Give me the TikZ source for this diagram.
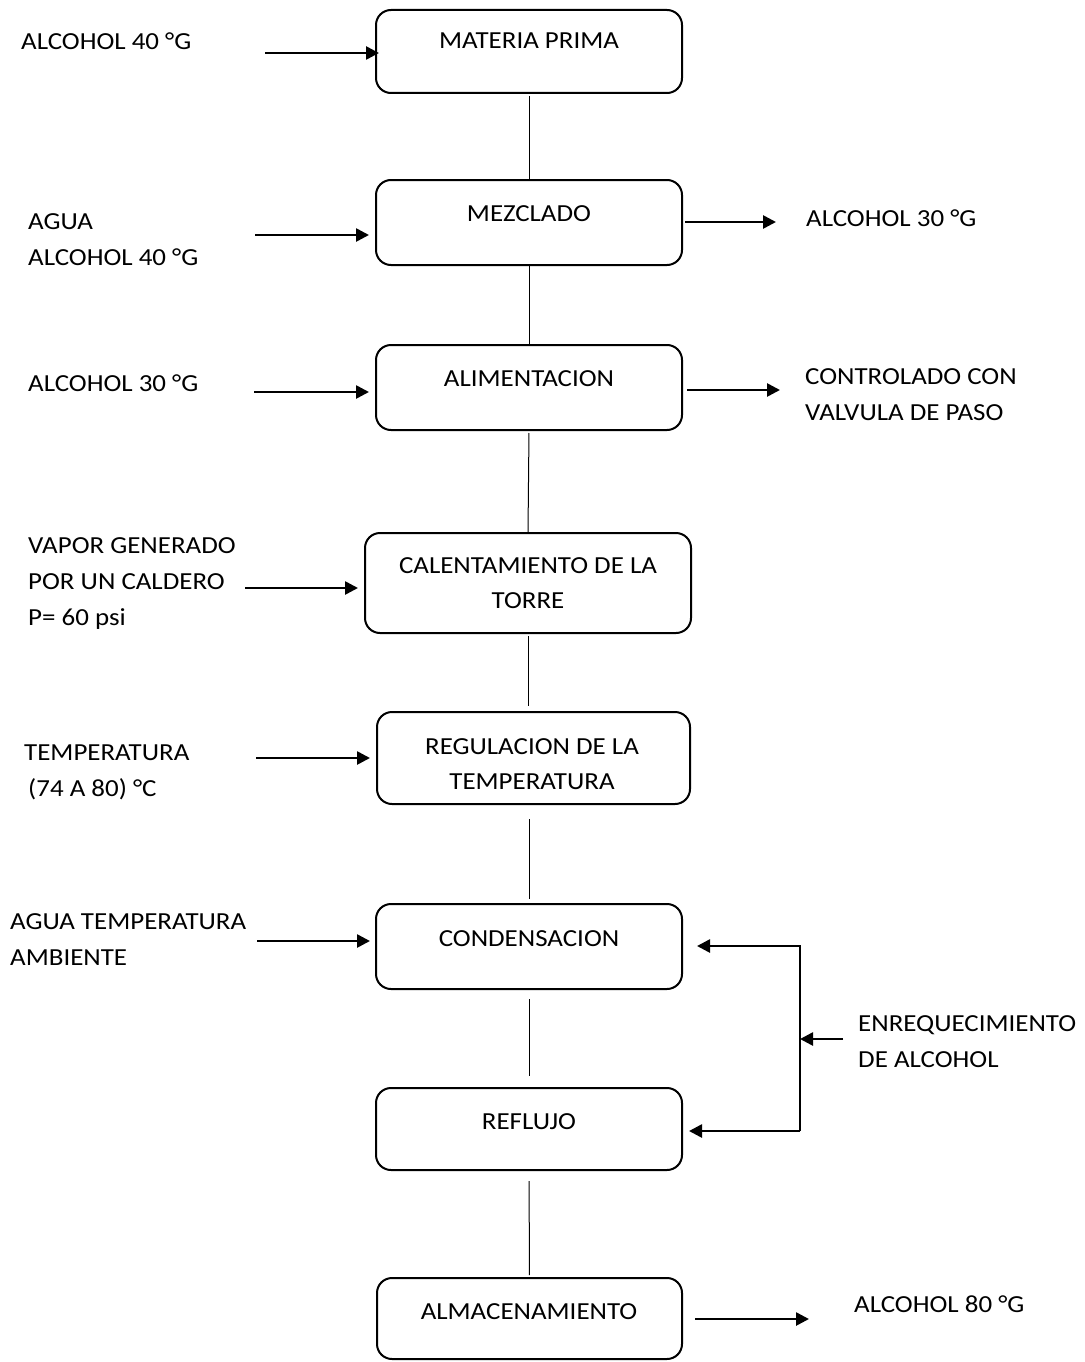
\documentclass[tikz,border=0pt]{standalone}
\usepackage{fontspec}
\setmainfont{Carlito}[FakeStretch=1.1]
\usetikzlibrary{arrows.meta}
\begin{document}
\begin{tikzpicture}[x=1pt,y=-1pt,
  box/.style={draw,line width=2pt,rounded corners=15pt,inner sep=0pt},
  lbl/.style={anchor=north west,inner sep=0pt,align=left,font=\fontsize{24.5}{36}\selectfont},
  btxt/.style={anchor=north,inner sep=0pt,align=center,font=\fontsize{24.5}{35}\selectfont},
  conn/.style={line width=1pt},
  arr/.style={line width=2.6pt,-{Triangle[length=13pt,width=13pt]}}]
\useasboundingbox (0,0) rectangle (1084,1362);
% boxes
\node[box,minimum width=306pt,minimum height=83pt] (b1) at (529,51.5) {};
\node[box,minimum width=306pt,minimum height=85pt] (b2) at (529,222.5) {};
\node[box,minimum width=306pt,minimum height=85pt] (b3) at (529,387.5) {};
\node[box,minimum width=326pt,minimum height=100pt] (b4) at (528,583) {};
\node[box,minimum width=313pt,minimum height=92pt] (b5) at (533.5,758) {};
\node[box,minimum width=306pt,minimum height=85pt] (b6) at (529,946.5) {};
\node[box,minimum width=306pt,minimum height=82pt] (b7) at (529,1129) {};
\node[box,minimum width=305pt,minimum height=81pt] (b8) at (529.5,1318.5) {};
% box texts
\node[btxt] (t1) at (529,33) {MATERIA PRIMA};
\node[btxt] (t2) at (529,205) {MEZCLADO};
\node[btxt] (t3) at (529,370) {ALIMENTACION};
\node[btxt] (t4) at (528,557) {CALENTAMIENTO DE LA\\TORRE};
\node[btxt] (t5) at (532,738) {REGULACION DE LA\\TEMPERATURA};
\node[btxt] (t6) at (529,930) {CONDENSACION};
\node[btxt] (t7) at (529,1113) {REFLUJO};
\node[btxt] (t8) at (529,1303) {ALMACENAMIENTO};
% vertical connectors
\draw[conn,shorten <=2pt] (b1.south) -- (b2.north);
\draw[conn] (b2.south) -- (b3.north);
\draw[conn,shorten <=2pt] (b3.south) -- (b4.north);
\draw[conn,shorten <=2pt,shorten >=5pt] (b4.south) -- (b4.south |- b5.north);
\draw[conn,shorten <=14pt,shorten >=4pt] (b5.south -| b6.north) -- (b6.north);
\draw[conn,shorten <=9pt,shorten >=11pt] (b6.south) -- (b7.north);
\draw[conn,shorten <=10pt,shorten >=2pt] (b7.south) -- (b8.north);
% left labels
\node[lbl] (l1) at (21,33) {ALCOHOL 40 °G};
\node[lbl] (l2) at (28,213) {AGUA\\ALCOHOL 40 °G};
\node[lbl] (l3) at (28,375) {ALCOHOL 30 °G};
\node[lbl] (l4) at (28,537) {VAPOR GENERADO\\POR UN CALDERO\\P= 60 psi};
\node[lbl] (l5) at (24,745) {TEMPERATURA\\\hspace*{4pt}(74 A 80) °C};
\node[lbl] (l6) at (10,913) {AGUA TEMPERATURA\\AMBIENTE};
% right labels
\node[lbl] (r2) at (806,210) {ALCOHOL 30 °G};
\node[lbl] (r3) at (805,368) {CONTROLADO CON\\VALVULA DE PASO};
\node[lbl] (r6) at (858,1015) {ENREQUECIMIENTO\\DE ALCOHOL};
\node[lbl] (r8) at (854,1296) {ALCOHOL 80 °G};
% input arrows
\coordinate (i1) at (265,53);
\coordinate (i2) at (255,235);
\coordinate (i3) at (254,392);
\coordinate (i4) at (245,588);
\coordinate (i5) at (256,758);
\coordinate (i6) at (257,941);
\draw[arr,shorten >=-4pt] (i1) -- (i1 -| b1.west);
\draw[arr,shorten >=6pt] (i2) -- (i2 -| b2.west);
\draw[arr,shorten >=6pt] (i3) -- (i3 -| b3.west);
\draw[arr,shorten >=6pt] (i4) -- (i4 -| b4.west);
\draw[arr,shorten >=6pt] (i5) -- (i5 -| b5.west);
\draw[arr,shorten >=5pt] (i6) -- (i6 -| b6.west);
% output arrows
\coordinate (o2) at (776,222);
\coordinate (o3) at (780,390);
\coordinate (o8) at (809,1319);
\draw[arr,shorten <=2pt] (b2.east |- o2) -- (o2);
\draw[arr,shorten <=4pt] (b3.east |- o3) -- (o3);
\draw[arr,shorten <=12pt] (b8.east |- o8) -- (o8);
% feedback loop
\coordinate (fT) at (800,946);
\coordinate (fB) at (800,1131);
\coordinate (en) at (843,1039);
\draw[arr,shorten >=14pt] (fB) -- (fT) -- (fT -| b6.east);
\draw[arr,shorten >=6pt] (fB) -- (fB -| b7.east);
\draw[arr] (en) -- (en -| fT);
\end{tikzpicture}
\end{document}
